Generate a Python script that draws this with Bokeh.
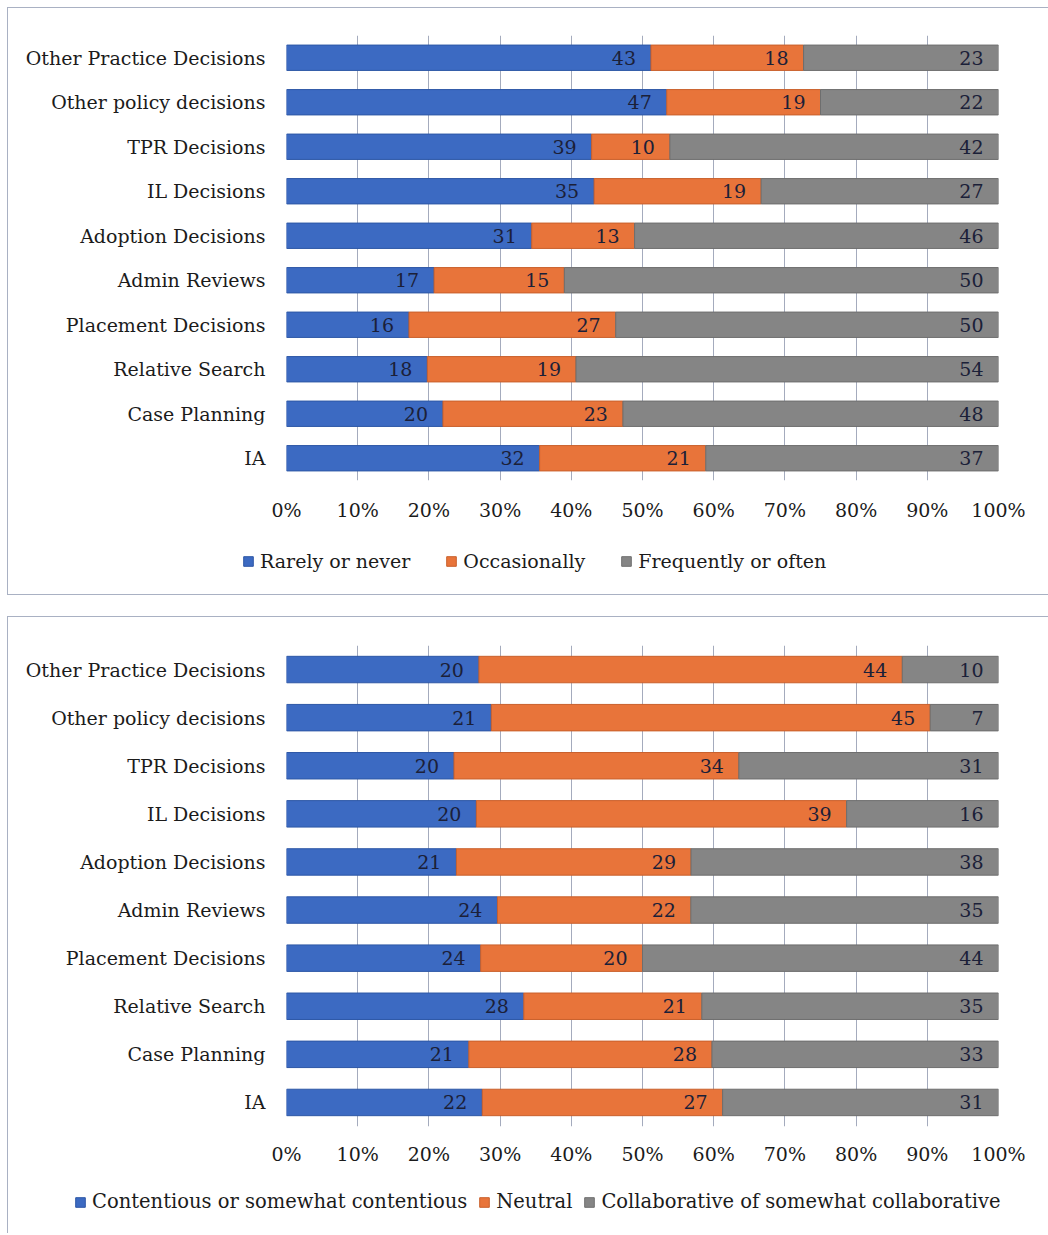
from bokeh.plotting import figure
from bokeh.models import (ColumnDataSource, FactorRange, Range1d, Legend, LegendItem,
                          FixedTicker, NumeralTickFormatter)
from bokeh.core.properties import value
from bokeh.layouts import column, row
from bokeh.embed import file_html
from bokeh.resources import INLINE

# Decision types, listed top to bottom as they appear on the charts
categories = ["Other Practice Decisions", "Other policy decisions", "TPR Decisions",
              "IL Decisions", "Adoption Decisions", "Admin Reviews",
              "Placement Decisions", "Relative Search", "Case Planning", "IA"]

# How often disagreements occur (response counts)
freq_rarely = [43, 47, 39, 35, 31, 17, 16, 18, 20, 32]
freq_occasionally = [18, 19, 10, 19, 13, 15, 27, 19, 23, 21]
freq_often = [23, 22, 42, 27, 46, 50, 50, 54, 48, 37]
freq_names = ["Rarely or never", "Occasionally", "Frequently or often"]

# Tone of the working relationship (response counts)
tone_contentious = [20, 21, 20, 20, 21, 24, 24, 28, 21, 22]
tone_neutral = [44, 45, 34, 39, 29, 22, 20, 21, 28, 27]
tone_collaborative = [10, 7, 31, 16, 38, 35, 44, 35, 33, 31]
tone_names = ["Contentious or somewhat contentious", "Neutral",
              "Collaborative of somewhat collaborative"]

tick_values = [0.0, 0.1, 0.2, 0.3, 0.4, 0.5, 0.6, 0.7, 0.8, 0.9, 1.0]

FILL = ["#3c6ac2", "#e8743a", "#858585"]
EDGE = ["#2d57a6", "#c9602c", "#6e6e6e"]
FONT = "DejaVu Serif"
SIZE = "19px"
INK = "#1b1b1b"
NUM_INK = "#1b2038"
WIDTH = 1040


def bar_chart(series, height, top, bottom, bar_h, tick_standoff):
    totals = [sum(v) for v in zip(*series)]
    data = {"cat": categories}
    run = [0.0] * len(categories)
    for i, counts in enumerate(series):
        share = [c / t for c, t in zip(counts, totals)]
        run = [r + s for r, s in zip(run, share)]
        data[f"s{i}"] = share
        data[f"e{i}"] = list(run)
        data[f"t{i}"] = [str(c) for c in counts]
    src = ColumnDataSource(data)

    p = figure(width=WIDTH, height=height,
               y_range=FactorRange(factors=list(reversed(categories)), range_padding=0),
               x_range=Range1d(0, 1),
               output_backend="svg", toolbar_location=None,
               min_border_left=278, min_border_right=50,
               min_border_top=top, min_border_bottom=bottom,
               outline_line_color=None)

    p.hbar_stack(["s0", "s1", "s2"], y="cat", height=bar_h, source=src,
                 fill_color=FILL, line_color=EDGE, line_width=1)

    for i in range(3):
        p.text(x=f"e{i}", y="cat", text=f"t{i}", source=src,
               text_align="right", text_baseline="middle", x_offset=-15,
               text_font=value(FONT), text_font_size=SIZE, text_color=NUM_INK)

    p.xaxis.ticker = FixedTicker(ticks=tick_values)
    p.xaxis.formatter = NumeralTickFormatter(format="0%")
    for ax in (p.xaxis, p.yaxis):
        ax.axis_line_color = None
        ax.major_tick_line_color = None
        ax.minor_tick_line_color = None
        ax.major_tick_out = 0
        ax.major_tick_in = 0
        ax.major_label_text_font = FONT
        ax.major_label_text_font_size = SIZE
        ax.major_label_text_color = INK
    p.xaxis.major_label_standoff = tick_standoff
    p.yaxis.major_label_standoff = 21

    p.ygrid.grid_line_color = None
    p.xgrid.ticker = FixedTicker(ticks=tick_values)
    p.xgrid.grid_line_color = "#a4abbd"
    p.xgrid.grid_line_width = 1
    return p


def key_strip(names, height, loc, gap, size):
    k = figure(width=WIDTH, height=height, x_range=Range1d(0, 1), y_range=Range1d(0, 1),
               x_axis_type=None, y_axis_type=None, min_border=0,
               output_backend="svg", toolbar_location=None, outline_line_color=None)
    k.grid.visible = False
    nan = float("nan")
    swatches = [k.hbar(y=[nan], right=[nan], height=0.5, fill_color=f, line_color=e)
                for f, e in zip(FILL, EDGE)]
    legend = Legend(items=[LegendItem(label=n, renderers=[r]) for n, r in zip(names, swatches)],
                    orientation="horizontal", location=loc,
                    spacing=gap, padding=0, margin=0,
                    glyph_width=12, glyph_height=12, label_standoff=6,
                    label_text_font=FONT, label_text_font_size=size,
                    label_text_color=INK,
                    border_line_color=None, background_fill_alpha=0)
    k.add_layout(legend)
    return row(k)


EDGE_LINE = "1px solid #a9b1c3"

top_box = column(
    bar_chart([freq_rarely, freq_occasionally, freq_often],
              height=522, top=27, bottom=50, bar_h=0.57, tick_standoff=18),
    key_strip(freq_names, height=64, loc=(234, 22), gap=35, size="19px"),
    styles={"border-top": EDGE_LINE, "border-left": EDGE_LINE, "border-bottom": EDGE_LINE},
    margin=(7, 0, 0, 7))

bottom_box = column(
    bar_chart([tone_contentious, tone_neutral, tone_collaborative],
              height=559, top=28, bottom=50, bar_h=0.55, tick_standoff=16),
    key_strip(tone_names, height=57, loc=(66, 20), gap=11, size="19.5px"),
    styles={"border-top": EDGE_LINE, "border-left": EDGE_LINE},
    margin=(21, 0, 0, 7))

layout = column(top_box, bottom_box)
open("out.html", "w").write(file_html(layout, INLINE))
